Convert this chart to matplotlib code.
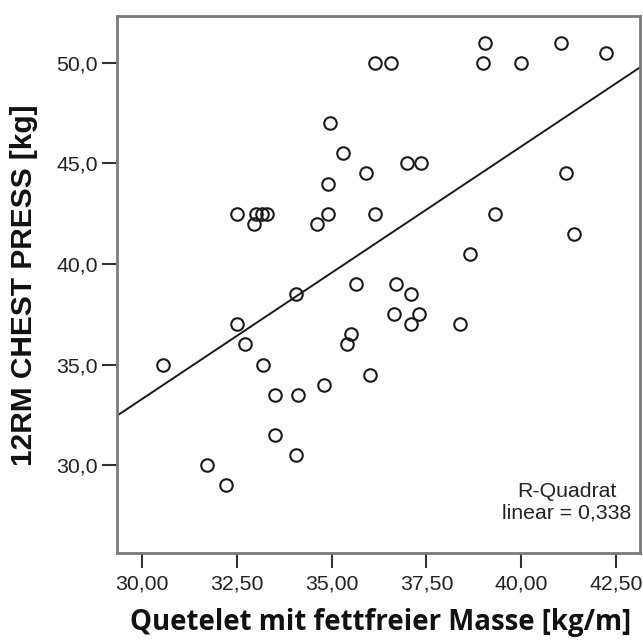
import matplotlib
matplotlib.use("Agg")
import matplotlib.pyplot as plt
import numpy as np

# Data
quetelet = [36.15, 36.56, 34.95, 35.30, 35.90, 34.90, 36.15, 34.90, 34.60, 32.50,
            32.95, 33.00, 33.15, 33.30, 39.05, 39.00, 40.00, 41.05, 42.25, 37.00,
            37.35, 41.20, 39.30, 41.40, 38.65, 30.55, 32.50, 32.70, 34.05, 33.20,
            33.50, 34.10, 34.80, 35.65, 35.50, 35.40, 36.00, 33.50, 34.05, 31.70,
            32.20, 36.70, 37.10, 36.65, 37.30, 37.10, 38.40]
chest_press = [50.0, 50.0, 47.0, 45.5, 44.5, 44.0, 42.5, 42.5, 42.0, 42.5,
               42.0, 42.5, 42.5, 42.5, 51.0, 50.0, 50.0, 51.0, 50.5, 45.0,
               45.0, 44.5, 42.5, 41.5, 40.5, 35.0, 37.0, 36.0, 38.5, 35.0,
               33.5, 33.5, 34.0, 39.0, 36.5, 36.0, 34.5, 31.5, 30.5, 30.0,
               29.0, 39.0, 38.5, 37.5, 37.5, 37.0, 37.0]
x_ticks = [30.0, 32.5, 35.0, 37.5, 40.0, 42.5]
x_tick_labels = ["30,00", "32,50", "35,00", "37,50", "40,00", "42,50"]
y_ticks = [30.0, 35.0, 40.0, 45.0, 50.0]
y_tick_labels = ["30,0", "35,0", "40,0", "45,0", "50,0"]
r2_text = "R-Quadrat\nlinear = 0,338"
x_label = "Quetelet mit fettfreier Masse [kg/m]"
y_label = "12RM CHEST PRESS [kg]"

x = np.array(quetelet)
y = np.array(chest_press)

fig = plt.figure(figsize=(6.43, 6.44), dpi=100)
ax = fig.add_axes([0.1824, 0.1418, 0.8129, 0.8338])

xmin, xmax = 29.34, 43.14
ymin, ymax = 25.65, 52.34
ax.set_xlim(xmin, xmax)
ax.set_ylim(ymin, ymax)

ax.plot(x, y, linestyle="none", marker="o", markersize=9.0,
        markerfacecolor="none", markeredgecolor="#1a1a1a", markeredgewidth=1.5, zorder=3)

slope, intercept = np.polyfit(x, y, 1)
xs = np.array([xmin, xmax])
ax.plot(xs, intercept + slope * xs, color="#1a1a1a", linewidth=1.4, zorder=2)

for sp in ax.spines.values():
    sp.set_color("#7a7a7a")
    sp.set_linewidth(2.0)

ax.set_xticks(x_ticks)
ax.set_xticklabels(x_tick_labels)
ax.set_yticks(y_ticks)
ax.set_yticklabels(y_tick_labels)
ax.tick_params(axis="both", direction="out", length=10.5, width=1.5, color="#333333",
               labelsize=15.3, labelcolor="#222222")
ax.tick_params(axis="x", pad=5.5)
ax.tick_params(axis="y", pad=3.5)
for lab in ax.get_xticklabels() + ax.get_yticklabels():
    lab.set_family("Liberation Sans")

ax.text(0.860, 0.0937, r2_text, transform=ax.transAxes, ha="center", va="center",
        fontsize=15.3, family="Liberation Sans", color="#222222", linespacing=1.2)

fig.text(0.0373, 0.5575, y_label, rotation=90, ha="center", va="center",
         fontsize=21.5, fontweight="bold", family="Liberation Sans", color="#111111")
fig.text(0.5915, 0.034, x_label, ha="center", va="center",
         fontsize=19.9, fontweight="bold", family="Open Sans", color="#111111")

fig.savefig("out.png", dpi=100)
